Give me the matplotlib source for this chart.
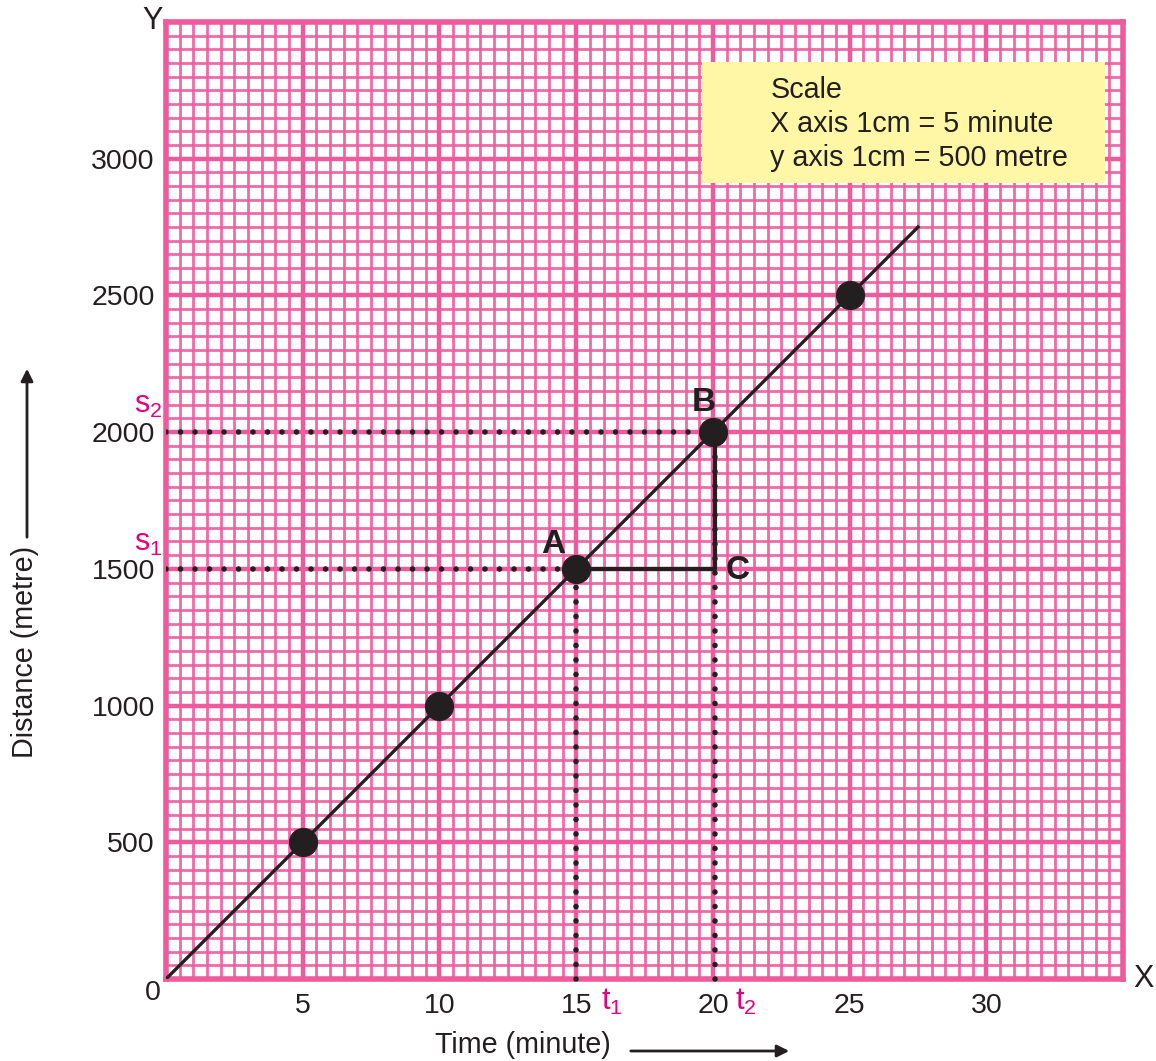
"""
Distance-time graph on pink graph paper.
"""
import numpy as np
import matplotlib.pyplot as plt
from matplotlib.ticker import MultipleLocator
from matplotlib.patches import FancyArrowPatch, Rectangle

# data
time_min = [0, 5, 10, 15, 20, 25, 27.5]
distance_m = [0, 500, 1000, 1500, 2000, 2500, 2750]
point_t = [5, 10, 15, 20, 25]
point_s = [500, 1000, 1500, 2000, 2500]
x_ticks = [5, 10, 15, 20, 25, 30]
y_ticks = [500, 1000, 1500, 2000, 2500, 3000]
t1, t2 = 15, 20
s1, s2 = 1500, 2000

PINK = '#EE5A9C'
LABEL_PINK = '#E5007D'
INK = '#231F20'

plt.rcParams['font.family'] = ['Liberation Sans', 'DejaVu Sans']

fig = plt.figure(figsize=(11.56, 10.61), dpi=100)
ax = fig.add_axes([0.1436, 0.0773, 0.828, 0.902])
ax.set_xlim(0, 35)
ax.set_ylim(0, 3500)

# graph paper grid
ax.xaxis.set_major_locator(MultipleLocator(5))
ax.yaxis.set_major_locator(MultipleLocator(500))
ax.xaxis.set_minor_locator(MultipleLocator(0.5))
ax.yaxis.set_minor_locator(MultipleLocator(50))
ax.grid(which='minor', color=PINK, lw=2.0, alpha=0.9)
ax.grid(which='major', color=PINK, lw=3.2)
ax.set_axisbelow(True)
for sp in ax.spines.values():
    sp.set_color(PINK)
    sp.set_linewidth(4)

ax.set_xticks(x_ticks)
ax.set_yticks(y_ticks)
ax.tick_params(which='both', length=0, labelsize=20.5, colors=INK)
ax.tick_params(axis='x', pad=10)
ax.tick_params(axis='y', pad=8)

# main line and points
ax.plot(time_min, distance_m, color=INK, lw=2.4, zorder=3)
ax.plot(point_t, point_s, 'o', color=INK, ms=20, zorder=4)

# dotted guide lines
dots = dict(color=INK, lw=4.0, ls=(0, (0.01, 2.6)), dash_capstyle='round', zorder=3)
ax.plot([0, t1], [s1, s1], **dots)
ax.plot([0, t2], [s2, s2], **dots)
ax.plot([t1, t1], [0, s1], clip_on=False, **dots)
ax.plot([t2 + 0.08, t2 + 0.08], [0, s2], clip_on=False, **dots)

# triangle A-C-B
ax.plot([t1, t2 + 0.08, t2 + 0.08], [s1, s1, s2], color=INK, lw=3, zorder=3)

bold = dict(fontsize=24, fontweight='bold', color=INK, ha='center', va='center')
ax.text(14.15, 1590, 'A', **bold)
ax.text(19.65, 2110, 'B', **bold)
ax.text(20.9, 1495, 'C', **bold)

pink = dict(fontsize=22, color=LABEL_PINK, ha='center', va='center', clip_on=False)
ax.text(-0.66, 2100, r'$\mathregular{s_2}$', **pink)
ax.text(-0.66, 1595, r'$\mathregular{s_1}$', **pink)
ax.text(16.3, -85, r'$\mathregular{t_1}$', **pink)
ax.text(21.2, -85, r'$\mathregular{t_2}$', **pink)

# corner labels
ax.text(-0.5, -50, '0', fontsize=20.5, color=INK, ha='center', va='center', clip_on=False)
ax.text(-0.5, 3505, 'Y', fontsize=22, color=INK, ha='center', va='center', clip_on=False)
ax.text(35.75, 0, 'X', fontsize=22, color=INK, ha='center', va='center', clip_on=False)

# scale box
ax.add_patch(Rectangle((19.6, 2911), 14.75, 443, fc='#FFF7A6', ec='none', zorder=5))
ax.text(22.1, 3127, 'Scale\nX axis 1cm = 5 minute\ny axis 1cm = 500 metre',
        fontsize=20.7, color=INK, ha='left', va='center', linespacing=1.28, zorder=6)

# axis titles with arrows
fig.text(523 / 1156, 1 - 1045 / 1061, 'Time (minute)', fontsize=20.7, color=INK,
         ha='center', va='center')
fig.add_artist(FancyArrowPatch(
    (628 / 1156, 1 - 1051 / 1061), (792 / 1156, 1 - 1051 / 1061),
    transform=fig.transFigure, arrowstyle='-|>', mutation_scale=18, lw=2, color=INK))
fig.text(25 / 1156, 1 - 652 / 1061, 'Distance (metre)', fontsize=20.7, color=INK,
         ha='center', va='center', rotation=90)
fig.add_artist(FancyArrowPatch(
    (27 / 1156, 1 - 540 / 1061), (27 / 1156, 1 - 366 / 1061),
    transform=fig.transFigure, arrowstyle='-|>', mutation_scale=18, lw=2, color=INK))

fig.savefig('out.png', dpi=100)
